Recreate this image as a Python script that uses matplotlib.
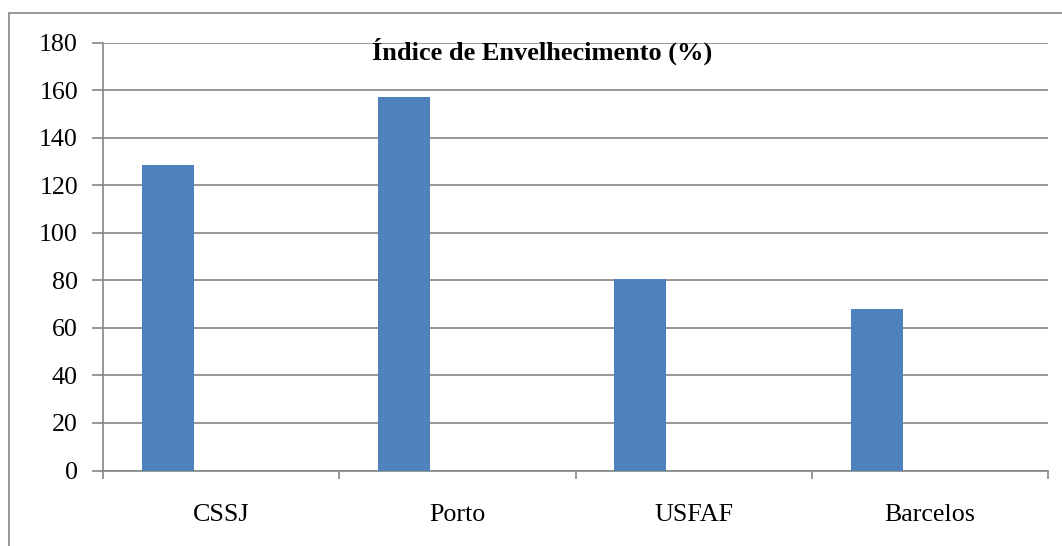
import matplotlib.pyplot as plt
from matplotlib.patches import Rectangle

# dados
categorias = ['CSSJ', 'Porto', 'USFAF', 'Barcelos']
indice = [128.5, 157, 80.4, 67.8]
y_ticks = [0, 20, 40, 60, 80, 100, 120, 140, 160, 180]

cinza = '#868686'
azul = '#4F81BD'

plt.rcParams['font.family'] = ['Liberation Serif', 'DejaVu Serif']

fig = plt.figure(figsize=(10.62, 5.46), dpi=100)
ax = fig.add_axes([103 / 1062, 1 - 470.5 / 546, 945 / 1062, 428 / 546])

pos = [i - 0.225 for i in range(len(categorias))]
ax.bar(pos, indice, width=0.22, color=azul, zorder=3)

ax.set_xlim(-0.5, len(categorias) - 0.5)
ax.set_ylim(0, 180)
ax.set_yticks(y_ticks)
ax.yaxis.grid(True, color=cinza, linewidth=1.2, zorder=0)

# marcas nos limites das categorias, nomes no centro
ax.set_xticks([i - 0.5 for i in range(len(categorias) + 1)])
ax.set_xticklabels([])
ax.set_xticks(range(len(categorias)), minor=True)
ax.set_xticklabels(categorias, minor=True)
ax.tick_params(axis='x', which='major', direction='out', length=6, color=cinza, width=1.2)
ax.tick_params(axis='x', which='minor', length=0, pad=24, labelsize=18.7)
ax.tick_params(axis='y', direction='out', length=8, color=cinza, width=1.2, pad=10, labelsize=18.7)

for s in ['top', 'right']:
    ax.spines[s].set_visible(False)
for s in ['left', 'bottom']:
    ax.spines[s].set_color(cinza)
    ax.spines[s].set_linewidth(1.2)

fig.text(542 / 1062, 1 - 51 / 546, 'Índice de Envelhecimento (%)', ha='center', va='center',
         fontsize=19, fontweight='bold')

# moldura exterior
fig.patches.append(Rectangle((9 / 1062, -0.1), 1.2, 1 - 13 / 546 + 0.1, transform=fig.transFigure,
                             fill=False, edgecolor=cinza, linewidth=1.2))

fig.savefig('out.png', dpi=100)
